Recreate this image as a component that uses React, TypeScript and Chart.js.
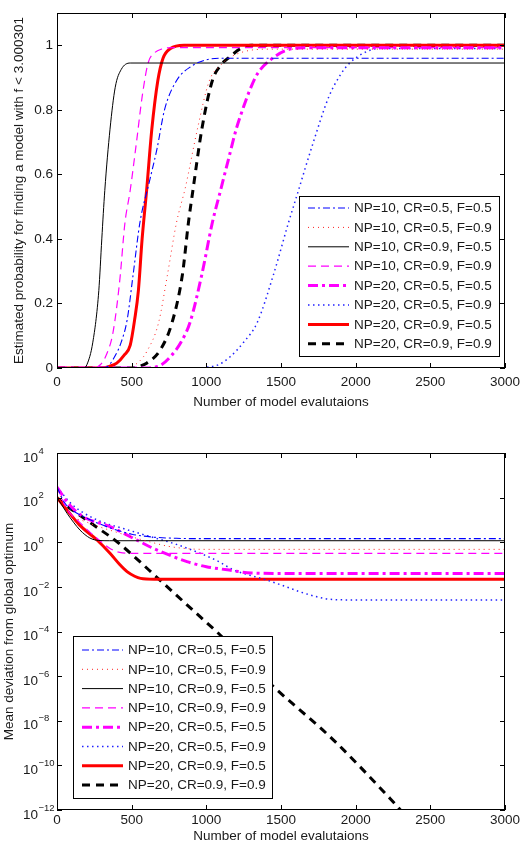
import React, { useEffect, useRef } from 'react';
import { Chart, registerables } from 'chart.js';

Chart.register(...registerables);

const FONT = "'Liberation Sans', Arial, Helvetica, sans-serif";
const TEXT_COLOR = '#1a1a1a';

const seriesLabels = [
  'NP=10, CR=0.5, F=0.5',
  'NP=10, CR=0.5, F=0.9',
  'NP=10, CR=0.9, F=0.5',
  'NP=10, CR=0.9, F=0.9',
  'NP=20, CR=0.5, F=0.5',
  'NP=20, CR=0.5, F=0.9',
  'NP=20, CR=0.9, F=0.5',
  'NP=20, CR=0.9, F=0.9',
];

const xTickValues = [0, 500, 1000, 1500, 2000, 2500, 3000];
const xTickLabels = ['0', '500', '1000', '1500', '2000', '2500', '3000'];
const probTickValues = [0, 0.2, 0.4, 0.6, 0.8, 1];
const probTickLabels = ['0', '0.2', '0.4', '0.6', '0.8', '1'];
const devTickExponents = [-12, -10, -8, -6, -4, -2, 0, 2, 4];
const devTickBase = '10';

const topXTitle = 'Number of model evalutaions';
const topYTitle = 'Estimated probability for finding a model with f < 3.000301';
const bottomXTitle = 'Number of model evalutaions';
const bottomYTitle = 'Mean deviation from global optimum';

// ---- Top chart: probability of success vs evaluations ----
const probEvals1 = [0, 300, 340, 380, 430, 470, 510, 555, 620, 670, 720, 800, 900, 1000, 1100, 3000];
const probVals1 = [0, 0, 0.005, 0.03, 0.08, 0.15, 0.29, 0.45, 0.58, 0.68, 0.8, 0.89, 0.935, 0.955, 0.96, 0.96];

const probEvals2 = [0, 450, 500, 550, 600, 680, 740, 800, 860, 940, 1020, 1100, 1150, 1250, 1400, 3000];
const probVals2 = [0, 0, 0.005, 0.02, 0.05, 0.14, 0.29, 0.45, 0.56, 0.74, 0.89, 0.94, 0.96, 0.98, 0.988, 0.988];

const probEvals3 = [0, 180, 200, 240, 280, 300, 320, 355, 390, 430, 490, 3000];
const probVals3 = [0, 0, 0.01, 0.08, 0.24, 0.4, 0.55, 0.74, 0.87, 0.925, 0.945, 0.945];

const probEvals4 = [0, 250, 290, 330, 375, 420, 455, 490, 535, 570, 610, 650, 700, 800, 3000];
const probVals4 = [0, 0, 0.01, 0.04, 0.11, 0.27, 0.45, 0.55, 0.71, 0.84, 0.945, 0.975, 0.988, 0.993, 0.993];

const probEvals5 = [0, 600, 650, 700, 760, 830, 890, 970, 1040, 1095, 1150, 1200, 1250, 1290, 1340, 1430, 1540, 1650, 3000];
const probVals5 = [0, 0, 0.002, 0.01, 0.035, 0.08, 0.14, 0.29, 0.45, 0.55, 0.65, 0.74, 0.81, 0.86, 0.91, 0.955, 0.985, 0.992, 0.992];

const probEvals6 = [0, 950, 1000, 1080, 1160, 1250, 1340, 1450, 1550, 1610, 1710, 1820, 1900, 1960, 2050, 2150, 3000];
const probVals6 = [0, 0, 0.002, 0.01, 0.035, 0.08, 0.14, 0.29, 0.45, 0.54, 0.69, 0.84, 0.91, 0.945, 0.975, 0.99, 0.99];

const probEvals7 = [0, 300, 350, 400, 450, 490, 520, 545, 570, 600, 635, 675, 710, 760, 850, 3000];
const probVals7 = [0, 0, 0.005, 0.015, 0.04, 0.07, 0.15, 0.24, 0.4, 0.55, 0.74, 0.89, 0.96, 0.99, 1, 1];

const probEvals8 = [0, 500, 550, 600, 690, 770, 840, 880, 910, 970, 1040, 1100, 1160, 1230, 1300, 3000];
const probVals8 = [0, 0, 0.005, 0.015, 0.055, 0.14, 0.29, 0.45, 0.55, 0.74, 0.89, 0.94, 0.965, 0.99, 1, 1];

// ---- Bottom chart: mean deviation from global optimum ----
const devEvals1 = [0, 50, 100, 200, 355, 500, 643, 800, 1000, 3000];
const devVals1 = [300, 60, 28, 12, 4.4, 2.3, 1.7, 1.5, 1.45, 1.45];

const devEvals2 = [0, 67, 200, 400, 620, 750, 900, 1000, 3000];
const devVals2 = [300, 25, 8, 2.8, 1.05, 0.65, 0.5, 0.48, 0.48];

const devEvals3 = [0, 30, 67, 110, 154, 220, 280, 350, 3000];
const devVals3 = [100, 50, 20, 8, 3.5, 1.55, 1.2, 1.17, 1.17];

const devEvals4 = [0, 67, 150, 230, 300, 360, 420, 500, 3000];
const devVals4 = [300, 30, 8, 2.5, 1.0, 0.5, 0.35, 0.32, 0.32];

const devEvals5 = [0, 80, 176, 355, 535, 643, 750, 870, 1000, 1140, 1300, 1500, 3000];
const devVals5 = [300, 50, 14, 5, 1.25, 0.54, 0.27, 0.135, 0.08, 0.058, 0.042, 0.04, 0.04];

const devEvals6 = [0, 100, 268, 450, 623, 800, 958, 1080, 1180, 1300, 1406, 1520, 1627, 1740, 1850, 2000, 3000];
const devVals6 = [300, 50, 10, 4, 1.8, 0.8, 0.32, 0.14, 0.058, 0.032, 0.02, 0.011, 0.006, 0.0036, 0.0027, 0.0026, 0.0026];

const devEvals7 = [0, 67, 150, 268, 355, 420, 469, 520, 560, 650, 3000];
const devVals7 = [100, 28, 6, 1.26, 0.32, 0.1, 0.048, 0.03, 0.024, 0.022, 0.022];

const devEvals8 = [0, 50, 134, 250, 402, 712, 958, 1069, 1449, 1850, 2230, 2260, 2300, 2340];
const devVals8 = [100, 50, 20, 5.6, 1.05, 0.0145, 4.6e-4, 9.8e-5, 3.4e-7, 1.4e-9, 3.3e-12, 2e-12, 1e-12, 5e-13];

const probSeries = [
  [probEvals1, probVals1], [probEvals2, probVals2], [probEvals3, probVals3], [probEvals4, probVals4],
  [probEvals5, probVals5], [probEvals6, probVals6], [probEvals7, probVals7], [probEvals8, probVals8],
];
const devSeries = [
  [devEvals1, devVals1], [devEvals2, devVals2], [devEvals3, devVals3], [devEvals4, devVals4],
  [devEvals5, devVals5], [devEvals6, devVals6], [devEvals7, devVals7], [devEvals8, devVals8],
];

const lineStyles = [
  { color: '#0000ff', width: 1.1, dash: [7, 3, 2, 3] },
  { color: '#ff2020', width: 1, dash: [1, 4] },
  { color: '#000000', width: 1, dash: [] as number[] },
  { color: '#ff00ff', width: 1.2, dash: [8, 5] },
  { color: '#ff00ff', width: 3, dash: [10, 4, 3, 4] },
  { color: '#2020ff', width: 1.5, dash: [1.5, 3.5] },
  { color: '#ff0000', width: 3, dash: [] as number[] },
  { color: '#000000', width: 3, dash: [8, 6] },
];

const framePlugin = {
  id: 'boxLegend',
  afterDatasetsDraw(chart: any, _args: any, opts: any) {
    const { ctx, chartArea: a, scales } = chart;
    ctx.save();
    ctx.setLineDash([]);
    ctx.strokeStyle = '#000';
    ctx.lineWidth = 1;
    ctx.strokeRect(a.left + 0.5, a.top + 0.5, a.right - a.left - 1, a.bottom - a.top - 1);
    const tl = 5;
    ctx.beginPath();
    for (const t of scales.x.ticks) {
      const px = Math.round(scales.x.getPixelForValue(t.value)) + 0.5;
      ctx.moveTo(px, a.bottom); ctx.lineTo(px, a.bottom - tl);
      ctx.moveTo(px, a.top); ctx.lineTo(px, a.top + tl);
    }
    for (const t of scales.y.ticks) {
      const py = Math.round(scales.y.getPixelForValue(t.value)) + 0.5;
      ctx.moveTo(a.left, py); ctx.lineTo(a.left + tl, py);
      ctx.moveTo(a.right, py); ctx.lineTo(a.right - tl, py);
    }
    ctx.stroke();

    // power-of-ten tick labels with real superscripts (log axis)
    if (opts.powerLabels) {
      ctx.fillStyle = TEXT_COLOR;
      ctx.textAlign = 'left';
      ctx.textBaseline = 'middle';
      devTickExponents.forEach((e) => {
        const py = scales.y.getPixelForValue(Math.pow(10, e));
        const x = opts.powerLabelX;
        ctx.font = `13.5px ${FONT}`;
        ctx.fillText(devTickBase, x, py + 5);
        const bw = ctx.measureText(devTickBase).width;
        ctx.font = `9.5px ${FONT}`;
        ctx.fillText(e < 0 ? '\u2212' + String(-e) : String(e), x + bw + 0.5, py - 2);
      });
    }

    // legend box
    const w = opts.width, h = opts.height;
    const x0 = opts.anchor === 'br' ? a.right - opts.insetX - w : a.left + opts.insetX;
    const y0 = a.bottom - opts.insetY - h;
    ctx.fillStyle = '#fff';
    ctx.fillRect(x0, y0, w, h);
    ctx.strokeStyle = '#000';
    ctx.lineWidth = 1;
    ctx.strokeRect(Math.round(x0) + 0.5, Math.round(y0) + 0.5, w, h);
    ctx.font = `13.5px ${FONT}`;
    ctx.textBaseline = 'middle';
    ctx.textAlign = 'left';
    chart.data.datasets.forEach((ds: any, i: number) => {
      const y = y0 + opts.firstRow + i * opts.rowStep;
      ctx.save();
      ctx.strokeStyle = ds.borderColor;
      ctx.lineWidth = ds.borderWidth;
      ctx.setLineDash(ds.borderDash || []);
      ctx.beginPath();
      ctx.moveTo(x0 + 9, y);
      ctx.lineTo(x0 + 50, y);
      ctx.stroke();
      ctx.restore();
      ctx.fillStyle = TEXT_COLOR;
      ctx.fillText(ds.label, x0 + 55, y + 0.5);
    });
    ctx.restore();
  },
};

const font = { family: FONT, size: 13.5 };

function buildDatasets(series: number[][][]) {
  return series.map(([xs, ys], i) => ({
    label: seriesLabels[i],
    data: xs.map((x, j) => ({ x, y: ys[j] })),
    borderColor: lineStyles[i].color,
    borderWidth: lineStyles[i].width,
    borderDash: lineStyles[i].dash,
    pointRadius: 0,
    fill: false,
    cubicInterpolationMode: 'monotone',
  }));
}

function xScale(height: number, pad: number, title: string) {
  return {
    type: 'linear',
    min: 0,
    max: 3000,
    afterBuildTicks: (s: any) => { s.ticks = xTickValues.map((v) => ({ value: v })); },
    afterFit: (s: any) => { s.height = height; },
    grid: { display: false, drawTicks: false },
    border: { display: false },
    ticks: {
      padding: pad, font, color: TEXT_COLOR, maxRotation: 0, autoSkip: false,
      callback: (v: number) => xTickLabels[xTickValues.indexOf(v)] ?? String(v),
    },
    title: { display: true, text: title, font, color: TEXT_COLOR, padding: { top: 0, bottom: 0 } },
  };
}

function topConfig(): any {
  return {
    type: 'line',
    data: { datasets: buildDatasets(probSeries) },
    options: {
      animation: false,
      responsive: true,
      maintainAspectRatio: false,
      layout: { padding: { top: 13, right: 22, left: 0, bottom: 0 } },
      plugins: {
        legend: { display: false },
        tooltip: { enabled: false },
        boxLegend: { anchor: 'br', insetX: 6, insetY: 12, width: 200, height: 160, firstRow: 12, rowStep: 19.4 },
      },
      scales: {
        x: xScale(42, 6, topXTitle),
        y: {
          type: 'linear',
          min: 0,
          max: 1.1,
          afterBuildTicks: (s: any) => { s.ticks = probTickValues.map((v) => ({ value: v })); },
          afterFit: (s: any) => { s.width = 57; },
          grid: { display: false, drawTicks: false },
          border: { display: false },
          ticks: {
            padding: 4, font, color: TEXT_COLOR,
            callback: (v: number) => probTickLabels[probTickValues.findIndex((p) => Math.abs(p - v) < 1e-9)],
          },
          title: { display: true, text: topYTitle, font, color: TEXT_COLOR, padding: { top: 11, bottom: 0 } },
        },
      },
    },
    plugins: [framePlugin],
  };
}

function bottomConfig(): any {
  return {
    type: 'line',
    data: { datasets: buildDatasets(devSeries) },
    options: {
      animation: false,
      responsive: true,
      maintainAspectRatio: false,
      layout: { padding: { top: 38, right: 22, left: 0, bottom: 0 } },
      plugins: {
        legend: { display: false },
        tooltip: { enabled: false },
        boxLegend: {
          anchor: 'bl', insetX: 16, insetY: 12, width: 199, height: 162, firstRow: 14, rowStep: 19.3,
          powerLabels: true, powerLabelX: 23,
        },
      },
      scales: {
        x: xScale(34, 2, bottomXTitle),
        y: {
          type: 'logarithmic',
          min: 1e-12,
          max: 1e4,
          afterBuildTicks: (s: any) => { s.ticks = devTickExponents.map((e) => ({ value: Math.pow(10, e) })); },
          afterFit: (s: any) => { s.width = 57; },
          grid: { display: false, drawTicks: false },
          border: { display: false },
          ticks: { display: false },
          title: { display: true, text: bottomYTitle, font, color: TEXT_COLOR, padding: { top: 1, bottom: 0 } },
        },
      },
    },
    plugins: [framePlugin],
  };
}

function ChartBox({ build, top, height }: { build: () => any; top: number; height: number }) {
  const ref = useRef<HTMLCanvasElement | null>(null);
  useEffect(() => {
    if (!ref.current) return;
    const chart = new Chart(ref.current, build());
    return () => chart.destroy();
  }, []);
  return (
    <div style={{ position: 'absolute', left: 0, top, width: 527, height }}>
      <canvas ref={ref} />
    </div>
  );
}

export default function App() {
  return (
    <div style={{ position: 'absolute', left: 0, top: 0, width: 527, height: 844, background: '#fff', overflow: 'hidden' }}>
      <ChartBox build={topConfig} top={0} height={410} />
      <ChartBox build={bottomConfig} top={415} height={429} />
    </div>
  );
}
